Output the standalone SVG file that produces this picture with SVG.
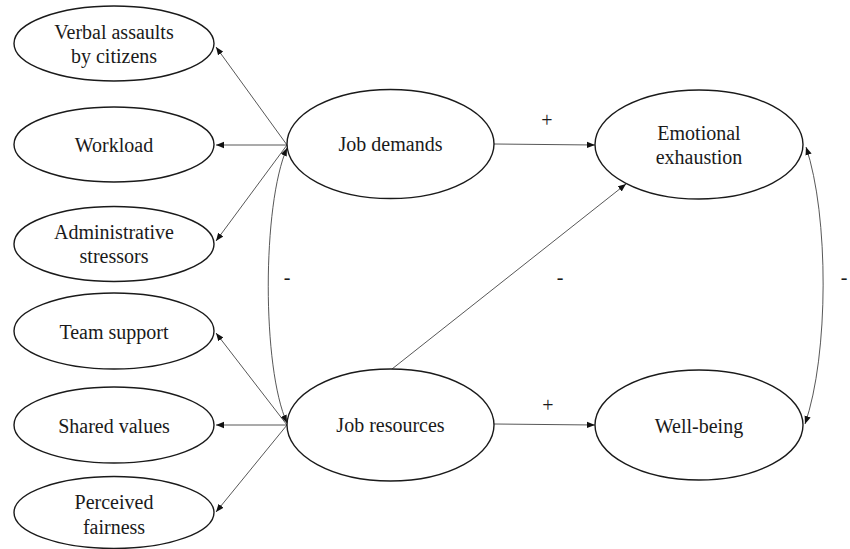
<svg xmlns="http://www.w3.org/2000/svg" width="850" height="549" viewBox="0 0 850 549">
<defs>
<marker id="ah" viewBox="0 0 10 10" refX="10" refY="5" markerWidth="8" markerHeight="8" markerUnits="userSpaceOnUse" orient="auto-start-reverse">
<path d="M0,1 L10,5 L0,9 Z" fill="#111"/>
</marker>
</defs>
<rect width="850" height="549" fill="#fff"/>
<g id="connectors" stroke="#444" stroke-width="0.9" fill="none">
<line x1="287" y1="145" x2="216" y2="47" marker-end="url(#ah)"/>
<line x1="287" y1="145" x2="216" y2="145" marker-end="url(#ah)"/>
<line x1="287" y1="145" x2="216" y2="241" marker-end="url(#ah)"/>
<line x1="287" y1="425" x2="216" y2="333" marker-end="url(#ah)"/>
<line x1="287" y1="425" x2="216" y2="425" marker-end="url(#ah)"/>
<line x1="287" y1="425" x2="216" y2="512" marker-end="url(#ah)"/>
<path d="M287,148 C262,205 262,368 287,423" marker-start="url(#ah)" marker-end="url(#ah)"/>
<line x1="494" y1="144" x2="595" y2="145" marker-end="url(#ah)"/>
<line x1="494" y1="424" x2="595" y2="425" marker-end="url(#ah)"/>
<line x1="392" y1="369" x2="626" y2="184" marker-end="url(#ah)"/>
<path d="M806,147 C829,215 829,355 805,424" marker-start="url(#ah)" marker-end="url(#ah)"/>
</g>
<g id="nodes" stroke-width="1.4">
<g id="verbal"><ellipse cx="114" cy="43.5" rx="100" ry="37.5" fill="#fff" stroke="#1a1a1a"/><text x="114" y="39" font-family="Liberation Serif" font-size="20" text-anchor="middle" fill="#1a1a1a">Verbal assaults</text><text x="114" y="63" font-family="Liberation Serif" font-size="20" text-anchor="middle" fill="#1a1a1a">by citizens</text></g>
<g id="workload"><ellipse cx="114" cy="144.5" rx="100" ry="37.5" fill="#fff" stroke="#1a1a1a"/><text x="114" y="152" font-family="Liberation Serif" font-size="20" text-anchor="middle" fill="#1a1a1a">Workload</text></g>
<g id="admin"><ellipse cx="114" cy="244" rx="100" ry="37.5" fill="#fff" stroke="#1a1a1a"/><text x="114" y="239" font-family="Liberation Serif" font-size="20" text-anchor="middle" fill="#1a1a1a">Administrative</text><text x="114" y="263" font-family="Liberation Serif" font-size="20" text-anchor="middle" fill="#1a1a1a">stressors</text></g>
<g id="team"><ellipse cx="114" cy="331" rx="100" ry="38" fill="#fff" stroke="#1a1a1a"/><text x="114" y="339" font-family="Liberation Serif" font-size="20" text-anchor="middle" fill="#1a1a1a">Team support</text></g>
<g id="shared"><ellipse cx="114" cy="425" rx="100" ry="38" fill="#fff" stroke="#1a1a1a"/><text x="114" y="433" font-family="Liberation Serif" font-size="20" text-anchor="middle" fill="#1a1a1a">Shared values</text></g>
<g id="fairness"><ellipse cx="114" cy="512.5" rx="100" ry="36" fill="#fff" stroke="#1a1a1a"/><text x="114" y="509" font-family="Liberation Serif" font-size="20" text-anchor="middle" fill="#1a1a1a">Perceived</text><text x="114" y="534" font-family="Liberation Serif" font-size="20" text-anchor="middle" fill="#1a1a1a">fairness</text></g>
<g id="jobdemands"><ellipse cx="390.5" cy="144" rx="103.5" ry="54.5" fill="#fff" stroke="#1a1a1a"/><text x="390.5" y="151" font-family="Liberation Serif" font-size="20" text-anchor="middle" fill="#1a1a1a">Job demands</text></g>
<g id="jobresources"><ellipse cx="390.5" cy="425" rx="103.5" ry="56" fill="#fff" stroke="#1a1a1a"/><text x="390.5" y="432" font-family="Liberation Serif" font-size="20" text-anchor="middle" fill="#1a1a1a">Job resources</text></g>
<g id="exhaustion"><ellipse cx="699" cy="144.5" rx="104" ry="54.5" fill="#fff" stroke="#1a1a1a"/><text x="699" y="140" font-family="Liberation Serif" font-size="20" text-anchor="middle" fill="#1a1a1a">Emotional</text><text x="699" y="164" font-family="Liberation Serif" font-size="20" text-anchor="middle" fill="#1a1a1a">exhaustion</text></g>
<g id="wellbeing"><ellipse cx="699" cy="425" rx="104" ry="55" fill="#fff" stroke="#1a1a1a"/><text x="699" y="433" font-family="Liberation Serif" font-size="20" text-anchor="middle" fill="#1a1a1a">Well-being</text></g>
</g>
<g id="labels" font-family="Liberation Serif" font-size="20" text-anchor="middle" fill="#1a1a1a">
<text x="547" y="127">+</text>
<text x="548" y="412">+</text>
<text x="287" y="284">-</text>
<text x="560" y="284">-</text>
<text x="844" y="284">-</text>
</g>
</svg>
